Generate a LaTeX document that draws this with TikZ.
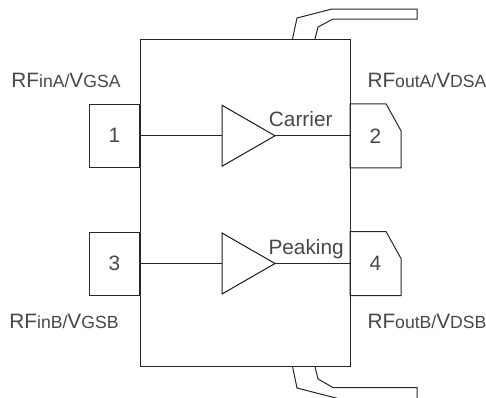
\documentclass[tikz,border=0pt]{standalone}
\usepackage{fontspec}
\setmainfont{Liberation Sans}
\usetikzlibrary{positioning, shapes.geometric}

\newcommand{\smalltxt}[1]{{\fontsize{13.2}{15}\selectfont #1}}

\begin{document}
\begin{tikzpicture}[
    x=0.75pt,
    y=-0.75pt,
    line width=0.75pt,
    every node/.style={text=black!72},
    body/.style={
        rectangle,
        draw=black!85,
        minimum width=157.5pt,
        minimum height=245.25pt
    },
    padin/.style={
        rectangle,
        draw=black!85,
        minimum width=37.5pt,
        minimum height=47.25pt,
        inner sep=0pt,
        font=\fontsize{15.6}{18}\selectfont
    },
    padout/.style={
        rectangle,
        minimum width=37.5pt,
        minimum height=47.25pt,
        inner sep=0pt,
        font=\fontsize{15.6}{18}\selectfont
    },
    amp/.style={
        isosceles triangle,
        isosceles triangle stretches,
        draw=black!90,
        minimum width=45.75pt,
        minimum height=39.75pt,
        inner sep=0pt,
        outer sep=0pt,
        anchor=west
    },
    wire/.style={draw=black!85},
    pinlabel/.style={
        inner sep=0pt,
        text height=11pt,
        text depth=0pt,
        font=\fontsize{15.6}{18}\selectfont
    }
]

\useasboundingbox (0,0) rectangle (486,397);

\node[body] (chip) at (245,202.75) {};

\node[amp] (ampa) at (222,135.75) {};
\node[amp] (ampb) at (222,263.5) {};

\coordinate (ina) at (ampa.west);
\coordinate (inb) at (ampb.west);

\node[padin] (pin1) [left=61.5pt of ina] {1};
\node[padout] (pin2) [right=56.25pt of ampa.apex] {2};
\node[padin] (pin3) [left=61.5pt of inb] {3};
\node[padout] (pin4) [right=56.25pt of ampb.apex] {4};

% cut corner on the output pads
\foreach \p in {pin2, pin4} {
    \draw[wire] (\p.south west) -- (\p.north west) -- ([xshift=-11.25pt]\p.north east)
        -- ([yshift=-20.25pt]\p.north east) -- (\p.south east) -- cycle;
}

\node[pinlabel] (rfa) [above left=11.5pt and 14.25pt of pin1.north east] {RF\smalltxt{inA/}V\smalltxt{GSA}};
\node[pinlabel] (rfb) [below left=13pt and 15.75pt of pin3.south east] {RF\smalltxt{inB/}V\smalltxt{GSB}};
\node[pinlabel] (rfc) [above right=11.5pt and 12.75pt of pin2.north west] {RF\smalltxt{outA/}V\smalltxt{DSA}};
\node[pinlabel] (rfd) [below right=13pt and 12.75pt of pin4.south west] {RF\smalltxt{outB/}V\smalltxt{DSB}};
\node[pinlabel] (carrier) [above right=6.75pt and -4.9pt of ampa.apex] {Carrier};
\node[pinlabel] (peaking) [above right=6.75pt and -5.25pt of ampb.apex] {Peaking};

\draw[wire] (pin1) -- (ina);
\draw[wire] (ampa.apex) -- (pin2);
\draw[wire] (pin3) -- (inb);
\draw[wire] (ampb.apex) -- (pin4);

% heat slug tabs
\draw[wire] (292.5,39) -- (297,18) -- (332,9) -- (417,9) -- (417,19) -- (333,19) -- (318,27) -- (315,39);
\draw[wire] (292.5,366.5) -- (297,388) -- (332,397) -- (340,399) -- (417,399);
\draw[wire] (315,366.5) -- (318,379) -- (333,387.5) -- (417,387.5) -- (417,399);

\end{tikzpicture}
\end{document}
